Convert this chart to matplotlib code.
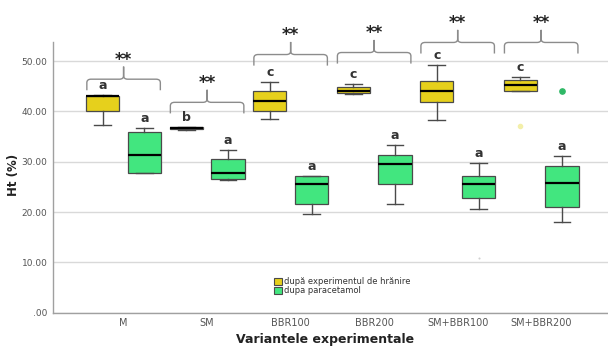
import matplotlib
matplotlib.use("Agg")
import matplotlib.pyplot as plt
from matplotlib.path import Path
from matplotlib.patches import PathPatch, Patch

groups = ["M", "SM", "BBR100", "BBR200", "SM+BBR100", "SM+BBR200"]

# dupa experimentul de hranire
feed_low = [37.3, 36.3, 38.4, 43.4, 38.2, 44.0]
feed_q1 = [40.0, 36.5, 40.1, 43.6, 41.9, 44.0]
feed_med = [43.0, 36.65, 42.0, 44.1, 44.0, 45.2]
feed_q3 = [43.1, 36.8, 44.0, 44.8, 46.0, 46.2]
feed_high = [43.3, 36.9, 45.8, 45.5, 49.3, 46.8]
feed_out = [[], [], [], [], [], [37.0]]

# dupa paracetamol
para_low = [27.7, 26.4, 19.6, 21.6, 20.6, 18.1]
para_q1 = [27.8, 26.5, 21.6, 25.5, 22.8, 21.0]
para_med = [31.4, 27.8, 25.5, 29.6, 25.5, 25.8]
para_q3 = [35.9, 30.5, 27.2, 31.4, 27.2, 29.2]
para_high = [36.7, 32.3, 27.2, 33.3, 29.8, 31.2]
para_out = [[], [], [], [], [], [44.1]]
para_faint = [[], [], [], [], [10.8], []]  # barely visible point

feed_letters = ["a", "b", "c", "c", "c", "c"]
para_letters = ["a", "a", "a", "a", "a", "a"]
signif = ["**", "**", "**", "**", "**", "**"]
brace_base = [44.2, 39.6, 49.1, 49.5, 51.5, 51.5]

legend_labels = ["după experimentul de hrănire", "dupa paracetamol"]
yellow = "#E6D01C"
green = "#42E67F"
edge = "#4a4a4a"


def stats(low, q1, med, q3, high, out):
    return [dict(whislo=a, q1=b, med=c, q3=d, whishi=e, fliers=f)
            for a, b, c, d, e, f in zip(low, q1, med, q3, high, out)]


def brace(ax, xc, y0, half=0.44, rise=2.2, tip=2.5):
    yh = y0 + rise
    r = 0.05
    c = 0.7
    verts, codes = [], []
    for s in (-1, 1):
        xe = xc + s * half
        verts += [(xe, y0), (xe, yh - c), (xe, yh), (xe - s * r, yh),
                  (xc + s * r, yh), (xc, yh), (xc, yh + c), (xc, yh + tip)]
        codes += [Path.MOVETO, Path.LINETO, Path.CURVE3, Path.CURVE3,
                  Path.LINETO, Path.CURVE3, Path.CURVE3, Path.LINETO]
    ax.add_patch(PathPatch(Path(verts, codes), fill=False, ec="#8c8c8c",
                           lw=1.0, clip_on=False))
    return yh + tip


fig = plt.figure(figsize=(6.08, 3.46), dpi=100)
ax = fig.add_axes([0.0872, 0.0963, 0.9128, 0.781])

n = len(groups)
pos = list(range(n))
off = 0.25
w = 0.4

for data, color, sh, fl_col, ms in [
        (stats(feed_low, feed_q1, feed_med, feed_q3, feed_high, feed_out), yellow, -off, "#f3efaa", 3),
        (stats(para_low, para_q1, para_med, para_q3, para_high, para_out), green, off, "#2fb866", 3.8)]:
    ax.bxp(data, positions=[p + sh for p in pos], widths=w, patch_artist=True,
           boxprops=dict(facecolor=color, edgecolor=edge, lw=0.9),
           medianprops=dict(color="black", lw=1.6),
           whiskerprops=dict(color=edge, lw=1.0),
           capprops=dict(color=edge, lw=1.0),
           flierprops=dict(marker="o", markersize=ms, markerfacecolor=fl_col,
                           markeredgecolor=fl_col),
           zorder=3)

for i in range(n):
    for v in para_faint[i]:
        ax.plot(i + off, v, "o", ms=1.5, color="#d0d0d0", mec="none")
    ax.text(i - off, feed_high[i] + 1.9, feed_letters[i], ha="center", va="center",
            fontsize=9, fontweight="bold", color="#333333")
    ax.text(i + off, para_high[i] + 1.9, para_letters[i], ha="center", va="center",
            fontsize=9, fontweight="bold", color="#333333")
    top = brace(ax, i, brace_base[i])
    ax.text(i, top + 0.3, signif[i], ha="center", va="baseline", fontsize=12,
            fontweight="bold", color="#222222", clip_on=False)

ax.set_xlim(-0.845, n - 1 + 0.80)
ax.set_ylim(0, 53.7)
ticks = [0, 10, 20, 30, 40, 50]
ax.set_yticks(ticks)
ax.set_yticklabels([".00" if t == 0 else "%.2f" % t for t in ticks])
ax.set_xticks(pos)
ax.set_xticklabels(groups)
ax.tick_params(axis="both", length=0, labelsize=6.5, labelcolor="#555555", pad=4)
ax.tick_params(axis="x", labelsize=7)
ax.yaxis.grid(True, color="#d9d9d9", lw=1.0)
ax.set_axisbelow(True)
for s in ["top", "right"]:
    ax.spines[s].set_visible(False)
for s in ["left", "bottom"]:
    ax.spines[s].set_color("#a0a0a0")
    ax.spines[s].set_linewidth(1.0)

fig.text(13 / 608, 1 - 175 / 346, "Ht (%)", rotation=90, ha="center", va="center",
         fontsize=8.5, fontweight="bold", color="#222222")
fig.text(325 / 608, 1 - 339 / 346, "Variantele experimentale", ha="center", va="center",
         fontsize=9, fontweight="bold", color="#222222")

handles = [Patch(facecolor=yellow, edgecolor=edge, lw=0.8),
           Patch(facecolor=green, edgecolor=edge, lw=0.8)]
fig.legend(handles, legend_labels, loc="upper left",
           bbox_to_anchor=(274 / 608, 1 - 277 / 346), frameon=False, fontsize=6,
           handlelength=0.9, handleheight=0.9, handletextpad=0.3, labelspacing=0.05,
           borderpad=0, borderaxespad=0, labelcolor="#333333")

fig.savefig("out.png", dpi=100)
